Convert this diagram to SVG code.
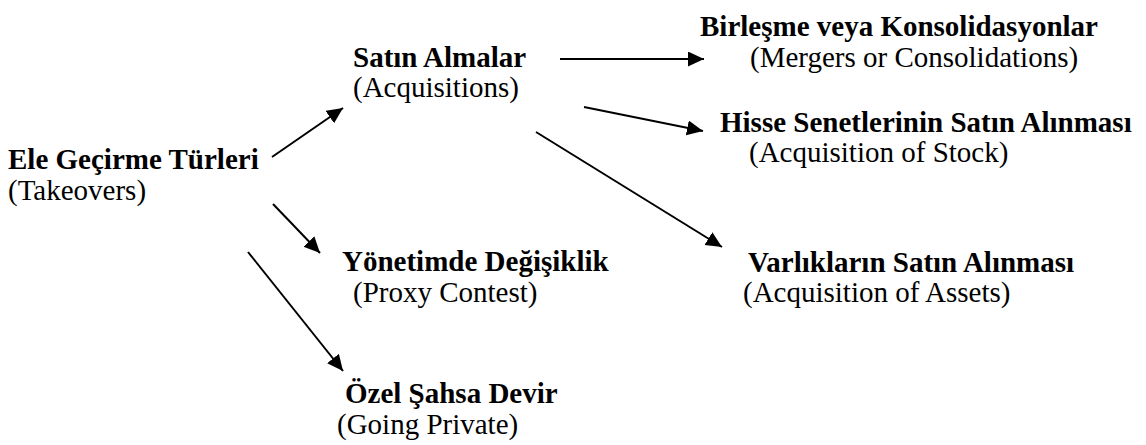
<svg xmlns="http://www.w3.org/2000/svg" width="1146" height="445" viewBox="0 0 1146 445">
<style>
text{font-family:"Liberation Serif","Times New Roman",serif;font-size:29px;fill:#000}
.b{font-weight:bold}
.c{stroke:#000;stroke-width:2;fill:none;marker-end:url(#ah)}
</style>
<defs>
<marker id="ah" markerUnits="userSpaceOnUse" markerWidth="18" markerHeight="16" refX="16" refY="7.5" orient="auto">
<path d="M0,0 L16,7.5 L0,15 Z" fill="#000"/>
</marker>
</defs>
<rect width="1146" height="445" fill="#fff"/>
<g id="connectors">
<line class="c" x1="272" y1="157" x2="343" y2="108"/>
<line class="c" x1="560" y1="59" x2="704" y2="59"/>
<line class="c" x1="584" y1="107" x2="703" y2="131"/>
<line class="c" x1="536" y1="132" x2="722" y2="247"/>
<line class="c" x1="273" y1="204" x2="320" y2="253"/>
<line class="c" x1="248" y1="252" x2="343" y2="371"/>
</g>
<g id="takeovers"><text class="b" x="8" y="169">Ele Geçirme Türleri</text><text x="8" y="200">(Takeovers)</text></g>
<g id="acquisitions"><text class="b" x="353" y="67">Satın Almalar</text><text x="353" y="97">(Acquisitions)</text></g>
<g id="mergers"><text class="b" x="700" y="36">Birleşme veya Konsolidasyonlar</text><text x="750" y="67">(Mergers or Consolidations)</text></g>
<g id="stock"><text class="b" x="720" y="132">Hisse Senetlerinin Satın Alınması</text><text x="749" y="162">(Acquisition of Stock)</text></g>
<g id="proxy"><text class="b" x="342" y="271">Yönetimde Değişiklik</text><text x="353" y="302">(Proxy Contest)</text></g>
<g id="assets"><text class="b" x="748" y="272">Varlıkların Satın Alınması</text><text x="743" y="302">(Acquisition of Assets)</text></g>
<g id="private"><text class="b" x="345" y="403">Özel Şahsa Devir</text><text x="337" y="434">(Going Private)</text></g>
</svg>
